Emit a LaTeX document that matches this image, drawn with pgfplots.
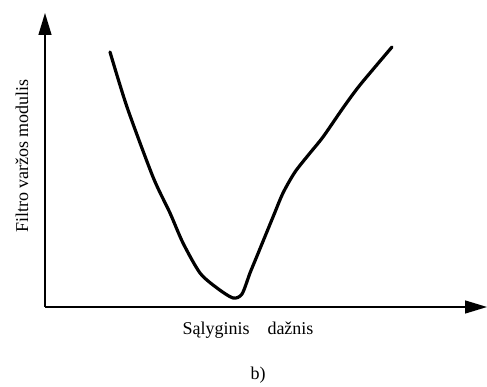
\documentclass[border=0pt]{standalone}
\usepackage{fontspec}
\setmainfont{Liberation Serif}
\usepackage{pgfplots}
\pgfplotsset{compat=1.18}
\usetikzlibrary{arrows.meta}

\begin{document}
\begin{tikzpicture}
\begin{axis}[
  scale only axis,
  width=442pt, height=294pt,
  xmin=45, xmax=487, ymin=0, ymax=294,
  axis lines=left,
  axis line style={line width=1.4pt, -{Triangle[length=22pt,width=13pt]}},
  xtick=\empty, ytick=\empty,
  clip=false,
]
  % filter impedance magnitude versus relative frequency
  \addplot[black, line width=3.2pt, line cap=round, line join=round, smooth, tension=0.45] coordinates {
    (110,255) (127,200) (153,130) (170,94) (183,64) (200,34) (217,19)
    (233,9) (242,13) (250,34) (257,51) (273,90) (283,114)
    (295,135) (310,154) (323,170) (343,199) (360,222) (392,260)
  };
  \node[rotate=90, font=\fontsize{18}{20}\selectfont] at (axis cs:22,151) {Filtro varžos modulis};
  \node[font=\fontsize{18}{20}\selectfont] at (axis cs:248,-23) {Sąlyginis\quad dažnis};
  \node[font=\fontsize{18}{20}\selectfont] at (axis cs:258,-68) {b)};
  \coordinate (bl) at (axis cs:0,-80);
  \coordinate (tr) at (axis cs:487,307);
\end{axis}
\pgfresetboundingbox
\path[use as bounding box] (bl) rectangle (tr);
\end{tikzpicture}
\end{document}
